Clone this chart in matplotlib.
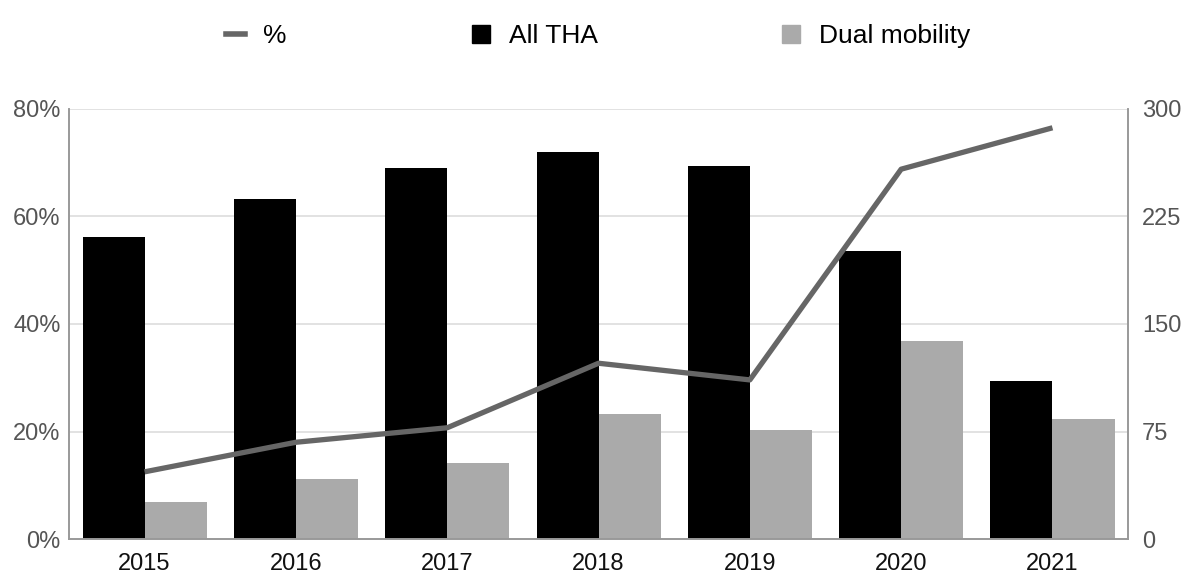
import matplotlib

matplotlib.use("Agg")

import matplotlib.pyplot as plt
from matplotlib.lines import Line2D
from matplotlib.ticker import FuncFormatter

plt.rcParams["font.family"] = ["Liberation Sans", "DejaVu Sans"]

years = ["2015", "2016", "2017", "2018", "2019", "2020", "2021"]
all_tha = [211, 237, 259, 270, 260, 201, 110]
dual_mobility = [26, 42, 53, 87, 76, 138, 84]
dm_percent = [12.5, 18.0, 20.7, 32.7, 29.6, 68.8, 76.5]

BLACK = "#000000"
GREY_BAR = "#aaaaaa"
GREY_LINE = "#666666"
GRID = "#dddddd"
SPINE = "#999999"
TICK = "#555555"

fig = plt.figure(figsize=(11.85, 5.76), dpi=100)
ax = fig.add_axes([0.0582, 0.0642, 0.8938, 0.7466])
ax2 = ax.twinx()

# bars on the count axis (right), percentage line on the twin (left)
x = list(range(len(years)))
width = 0.41
ax.bar([i - width / 2 for i in x], all_tha, width=width, color=BLACK, zorder=2)
ax.bar([i + width / 2 for i in x], dual_mobility, width=width, color=GREY_BAR, zorder=2)
ax.set_ylim(0, 300)
ax.set_xlim(-0.5, len(years) - 0.5)
ax.set_yticks([0, 75, 150, 225, 300])
ax.yaxis.tick_right()
ax.grid(axis="y", color=GRID, linewidth=1.2)
ax.set_axisbelow(True)
ax.set_xticks(x)
ax.set_xticklabels(years)
ax.tick_params(axis="x", length=0, pad=10, labelsize=17, labelcolor="#111111")
ax.tick_params(axis="y", length=0, pad=10, labelsize=17, labelcolor=TICK)

ax2.plot(x, dm_percent, color=GREY_LINE, linewidth=3.8, solid_capstyle="butt", zorder=3)
ax2.set_ylim(0, 80)
ax2.set_yticks([0, 20, 40, 60, 80])
ax2.yaxis.set_major_formatter(FuncFormatter(lambda v, _: f"{v:.0f}%"))
ax2.yaxis.tick_left()
ax2.tick_params(axis="y", length=0, pad=6, labelsize=17, labelcolor=TICK)

for a in (ax, ax2):
    a.spines["top"].set_visible(False)
    for side in ("left", "right", "bottom"):
        a.spines[side].set_color(SPINE)
        a.spines[side].set_linewidth(1.2)

handles = [
    Line2D([0], [0], color=GREY_LINE, linewidth=4),
    Line2D([0], [0], color=BLACK, marker="s", markersize=13, linestyle="none"),
    Line2D([0], [0], color=GREY_BAR, marker="s", markersize=13, linestyle="none"),
]
fig.legend(
    handles,
    ["%", "All THA", "Dual mobility"],
    loc="upper center",
    bbox_to_anchor=(0.505, 1.0),
    ncol=3,
    frameon=False,
    fontsize=19,
    handlelength=0.7,
    handletextpad=0.7,
    columnspacing=7.0,
)

fig.savefig("out.png", dpi=100)
